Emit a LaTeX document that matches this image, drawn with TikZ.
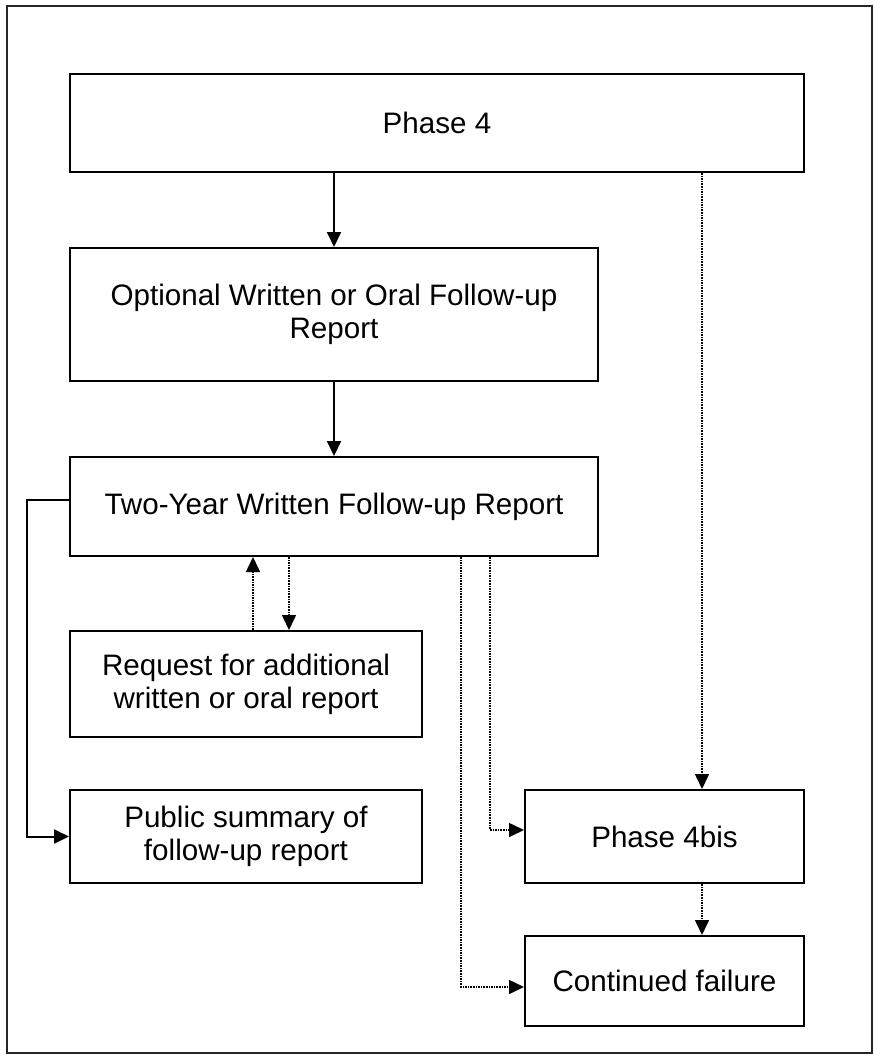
\documentclass[tikz,border=0pt]{standalone}
\usepackage{fontspec}
\setmainfont{Liberation Sans}
\usetikzlibrary{arrows.meta,positioning}

\begin{document}
\begin{tikzpicture}[x=1pt,y=-1pt,->,>={Triangle[length=15pt,width=14pt]},line width=2pt]
\tikzstyle{box}=[draw=black,text=black,align=center,inner sep=0pt,font=\fontsize{29.6}{33}\selectfont]
\tikzstyle{dots}=[line width=1.6pt,dash pattern=on 1.6pt off 1pt]

\useasboundingbox (0,0) rectangle (875,1057);
\draw[-,line width=1.5pt,black!85] (7,6) rectangle (872,1053);

\node[box,minimum width=734pt,minimum height=98pt] (P4) at (437,123) {Phase 4};
\node[box,minimum width=528pt,minimum height=133pt] (Opt) at (334,314.5) {Optional Written or Oral Follow-up\\Report};
\node[box,minimum width=528pt,minimum height=99pt] (Two) at (334,506.5) {Two-Year Written Follow-up Report};
\node[box,minimum width=352pt,minimum height=106pt] (Req) at (246,684) {Request for additional\\written or oral report};
\node[box,minimum width=352pt,minimum height=93pt] (Pub) at (246,836.5) {Public summary of\\follow-up report};
\node[box,minimum width=279pt,minimum height=93pt] (Bis) at (664.5,836.5) {Phase 4bis};
\node[box,minimum width=279pt,minimum height=90pt] (Fail) at (664.5,981) {Continued failure};

% columns of the connectors
\coordinate (cx) at (334,0);
\coordinate (ux) at (253,0);
\coordinate (dx) at (289,0);
\coordinate (lx) at (27,500);
\coordinate (ax) at (490,830);
\coordinate (bx) at (461,987);
\coordinate (rx) at (702,0);

\draw (P4.south -| cx) -- (Opt.north -| cx);
\draw (Opt.south -| cx) -- (Two.north -| cx);
\draw (Two.west |- lx) -- (lx) |- (Pub.west);
\draw[dots] (Req.north -| ux) -- (Two.south -| ux);
\draw[dots] (Two.south -| dx) -- (Req.north -| dx);
\draw[dots] (P4.south -| rx) -- (Bis.north -| rx);
\draw[dots] (Bis.south -| rx) -- (Fail.north -| rx);
\draw[dots] (Two.south -| ax) -- (ax) -- (Bis.west |- ax);
\draw[dots] (Two.south -| bx) -- (bx) -- (Fail.west |- bx);
\end{tikzpicture}
\end{document}
